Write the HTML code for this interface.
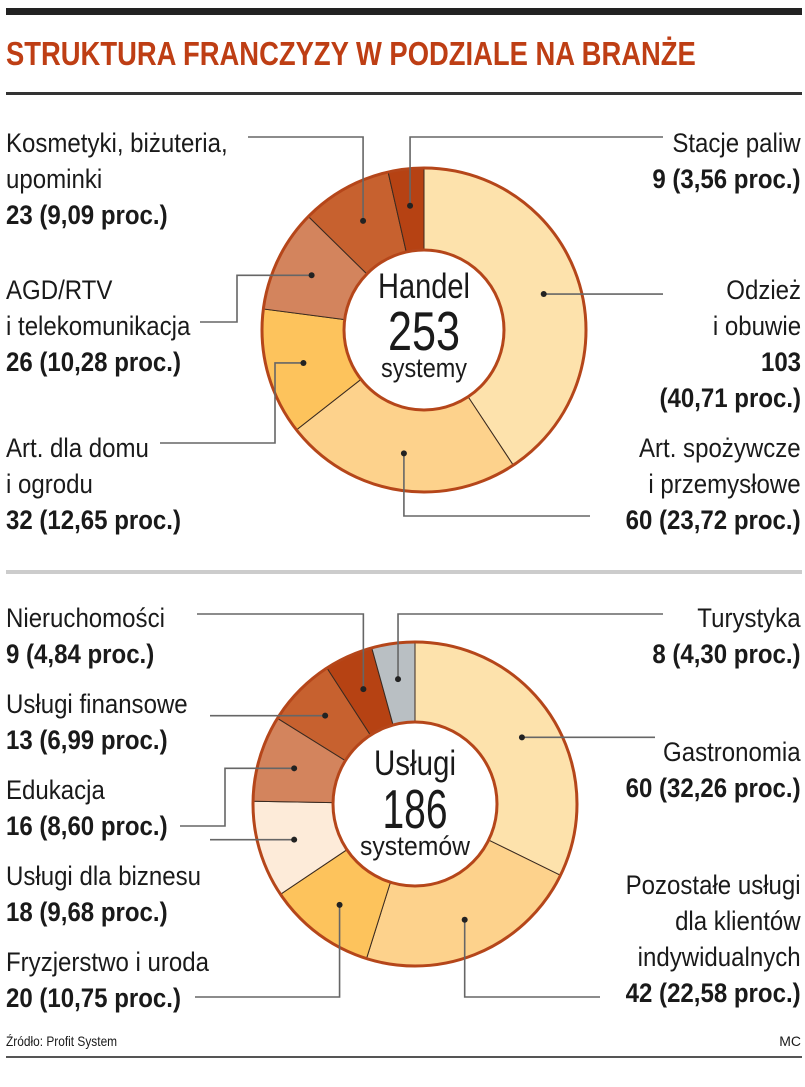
<!DOCTYPE html>
<html><head><meta charset="utf-8">
<style>
html,body{margin:0;padding:0;background:#fff;}
#wrap{position:relative;width:805px;height:1087px;overflow:hidden;font-family:"Liberation Sans",sans-serif;color:#1a1a1a;}
.t{position:absolute;font-size:27px;line-height:36px;white-space:nowrap;}
.l{left:6px;text-align:left;transform:scaleX(0.89);transform-origin:left top;}
.r{right:4px;text-align:right;transform:scaleX(0.89);transform-origin:right top;}
.b{font-weight:bold;}
.rule{position:absolute;left:6px;width:796px;}
svg{position:absolute;left:0;top:0;}
</style></head><body>
<div id="wrap">
<div class="rule" style="top:8px;height:7px;background:#222;"></div>
<div class="t" style="left:6px;top:34px;font-size:33px;line-height:40px;font-weight:bold;color:#BE3E14;transform:scaleX(0.83);transform-origin:left top;">STRUKTURA FRANCZYZY W PODZIALE NA BRANŻE</div>
<div class="rule" style="top:92px;height:3px;background:#333;"></div>
<div class="rule" style="top:570px;height:4px;background:#ccc;"></div>
<div class="rule" style="top:1056px;height:2px;background:#555;"></div>
<div class="t" style="left:6px;top:1032px;font-size:14px;line-height:18px;transform:scaleX(0.85);transform-origin:left top;">Źródło: Profit System</div>
<div class="t" style="right:4px;top:1032px;font-size:14px;line-height:18px;">MC</div>

<svg id="chart" width="805" height="1087"></svg>

<div class="t l" style="top:125px;">Kosmetyki, biżuteria,<br>upominki<br><span class="b">23 (9,09 proc.)</span></div>
<div class="t l" style="top:272px;">AGD/RTV<br>i telekomunikacja<br><span class="b">26 (10,28 proc.)</span></div>
<div class="t l" style="top:430px;">Art. dla domu<br>i ogrodu<br><span class="b">32 (12,65 proc.)</span></div>
<div class="t r" style="top:125px;">Stacje paliw<br><span class="b">9 (3,56 proc.)</span></div>
<div class="t r" style="top:272px;">Odzież<br>i obuwie<br><span class="b">103<br>(40,71 proc.)</span></div>
<div class="t r" style="top:430px;">Art. spożywcze<br>i przemysłowe<br><span class="b">60 (23,72 proc.)</span></div>
<div class="t l" style="top:600px;">Nieruchomości<br><span class="b">9 (4,84 proc.)</span></div>
<div class="t l" style="top:686px;">Usługi finansowe<br><span class="b">13 (6,99 proc.)</span></div>
<div class="t l" style="top:772px;">Edukacja<br><span class="b">16 (8,60 proc.)</span></div>
<div class="t l" style="top:858px;">Usługi dla biznesu<br><span class="b">18 (9,68 proc.)</span></div>
<div class="t l" style="top:944px;">Fryzjerstwo i uroda<br><span class="b">20 (10,75 proc.)</span></div>
<div class="t r" style="top:600px;">Turystyka<br><span class="b">8 (4,30 proc.)</span></div>
<div class="t r" style="top:734px;">Gastronomia<br><span class="b">60 (32,26 proc.)</span></div>
<div class="t r" style="top:867px;">Pozostałe usługi<br>dla klientów<br>indywidualnych<br><span class="b">42 (22,58 proc.)</span></div>

<script>
const handelCategories = ["Odzież i obuwie","Art. spożywcze","Art. dla domu","AGD/RTV","Kosmetyki","Stacje paliw"];
const handelValues = [103, 60, 32, 26, 23, 9];
const uslugiCategories = ["Gastronomia","Pozostałe","Fryzjerstwo","Biznes","Edukacja","Finansowe","Nieruchomości","Turystyka"];
const uslugiValues = [60, 42, 20, 18, 16, 13, 9, 8];
const centerTexts = [["Handel","253","systemy"],["Usługi","186","systemów"]];

const NS="http://www.w3.org/2000/svg";
const svg=document.getElementById('chart');
function mk(tag,attrs){const e=document.createElementNS(NS,tag);for(const k in attrs)e.setAttribute(k,attrs[k]);svg.appendChild(e);return e;}
function pt(cx,cy,r,a){return [cx+r*Math.sin(a),cy-r*Math.cos(a)];}

const topColors=["#FDE2AC","#FDD28C","#FDC35C","#D3845D","#C7612F","#B64213"];
const botColors=["#FDE2AC","#FDD28C","#FDC35C","#FDEBD9","#D3845D","#C7612F","#B64213","#B9BFC3"];
const topRoutes=[
 d=>[[663,d[1]]],
 d=>[[d[0],516],[590,516]],
 d=>[[275,d[1]],[275,443],[160,443]],
 d=>[[237,d[1]],[237,322],[200,322]],
 d=>[[d[0],137],[248,137]],
 d=>[[d[0],137],[663,137]]
];
const botRoutes=[
 d=>[[655,d[1]]],
 d=>[[d[0],997],[600,997]],
 d=>[[d[0],997],[195,997]],
 d=>[[210,d[1]]],
 d=>[[225,d[1]],[225,826],[180,826]],
 d=>[[210,d[1]]],
 d=>[[d[0],614],[197,614]],
 d=>[[d[0],614],[663,614]]
];

function donut(name,cx,cy,ro,ri,vals,cats,colors,routes,ct,ctLayout){
  const tot=vals.reduce((a,b)=>a+b,0);
  let a0=0;
  const mids=[];
  vals.forEach((v,i)=>{
    const a1=a0+v/tot*2*Math.PI;
    const [x0,y0]=pt(cx,cy,ro,a0),[x1,y1]=pt(cx,cy,ro,a1),[x2,y2]=pt(cx,cy,ri,a1),[x3,y3]=pt(cx,cy,ri,a0);
    const lg=(a1-a0)>Math.PI?1:0;
    const p=mk('path',{d:`M${x0},${y0}A${ro},${ro} 0 ${lg} 1 ${x1},${y1}L${x2},${y2}A${ri},${ri} 0 ${lg} 0 ${x3},${y3}Z`,fill:colors[i],stroke:"#3a2a20","stroke-width":1});
    
    
    mids.push((a0+a1)/2);
    a0=a1;
  });
  const c1=mk('circle',{cx:cx,cy:cy,r:ro,fill:"none",stroke:"#B5461A","stroke-width":3});
  
  
  const c2=mk('circle',{cx:cx,cy:cy,r:ri,fill:"#fff",stroke:"#B5461A","stroke-width":3});
  
  
  mids.forEach((m,i)=>{
    const d=pt(cx,cy,(ro+ri)/2+4,m);
    const pts=[d].concat(routes[i](d));
    const pl=mk('polyline',{points:pts.map(p=>p.join(',')).join(' '),fill:"none",stroke:"#666","stroke-width":1.6});
    
    
    const dot=mk('circle',{cx:d[0],cy:d[1],r:3,fill:"#222"});
    
    
  });
  const fam='"Liberation Sans",sans-serif';
  const sizes=[35,55,27];
  ct.forEach((s,k)=>{
    const t=mk('text',{x:cx,y:cy+ctLayout.dy[k],"text-anchor":"middle","font-size":sizes[k],"font-family":fam,fill:"#1a1a1a",textLength:ctLayout.w[k],lengthAdjust:"spacingAndGlyphs"});
    t.textContent=s;
    
    
  });
}
donut('handel',424,330,162,80,handelValues,handelCategories,topColors,topRoutes,centerTexts[0],{dy:[-32,20,47],w:[92,72,86]});
donut('uslugi',415,804,162,82,uslugiValues,uslugiCategories,botColors,botRoutes,centerTexts[1],{dy:[-29,24,51],w:[82,65,110]});
</script>
</div>
</body></html>
